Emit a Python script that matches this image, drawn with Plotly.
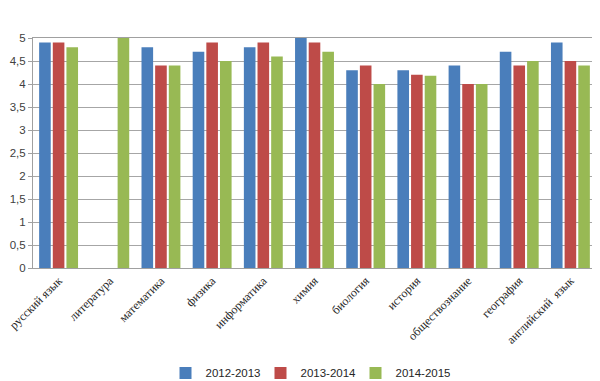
import plotly.graph_objects as go

categories = ["русский язык", "литература", "математика", "физика", "информатика",
              "химия", "биология", "история", "обществознание", "география", "английский  язык"]
y2012_2013 = [4.9, 0, 4.8, 4.7, 4.8, 5.0, 4.3, 4.3, 4.4, 4.7, 4.9]
y2013_2014 = [4.9, 0, 4.4, 4.9, 4.9, 4.9, 4.4, 4.2, 4.0, 4.4, 4.5]
y2014_2015 = [4.8, 5.0, 4.4, 4.5, 4.6, 4.7, 4.0, 4.18, 4.0, 4.5, 4.4]
series_names = ["2012-2013", "2013-2014", "2014-2015"]
colors = ["#4A7EBB", "#BE4B48", "#98B954"]
tick_vals = [0, 0.5, 1, 1.5, 2, 2.5, 3, 3.5, 4, 4.5, 5]
tick_text = ["0", "0,5", "1", "1,5", "2", "2,5", "3", "3,5", "4", "4,5", "5"]

fig = go.Figure()
for name, vals, col in zip(series_names, [y2012_2013, y2013_2014, y2014_2015], colors):
    fig.add_trace(go.Bar(x=categories, y=vals, name=name,
                         marker=dict(color=col, line=dict(color=col, width=0))))

fig.update_layout(
    width=600, height=381,
    margin=dict(l=25, r=12, t=30, b=121, autoexpand=False),
    paper_bgcolor="white", plot_bgcolor="white",
    barmode="group", bargap=0.2, bargroupgap=0.15,
    font=dict(family="Liberation Sans", size=11, color="#404040"),
    showlegend=True,
    legend=dict(orientation="h", x=0.5, xanchor="center", xref="container",
                y=0.042, yanchor="middle", yref="container",
                font=dict(family="Liberation Sans", size=11.5, color="#262626"),
                itemwidth=30, entrywidth=50, entrywidthmode="pixels",
                traceorder="normal"),
    xaxis=dict(tickangle=-45, automargin=False,
               tickfont=dict(family="Liberation Serif", size=12, color="#262626"),
               showline=True, linecolor="#A0A0A0", mirror=True, ticks="", showgrid=False),
    yaxis=dict(range=[0, 5], tickvals=tick_vals, ticktext=tick_text, automargin=False,
               showgrid=True, gridcolor="#A6A6A6", gridwidth=1,
               showline=True, linecolor="#A0A0A0", mirror=True,
               ticks="outside", ticklen=4, tickcolor="#A0A0A0",
               tickfont=dict(family="Liberation Sans", size=11.5, color="#404040"),
               zeroline=False),
)

fig.write_html("out.html")
